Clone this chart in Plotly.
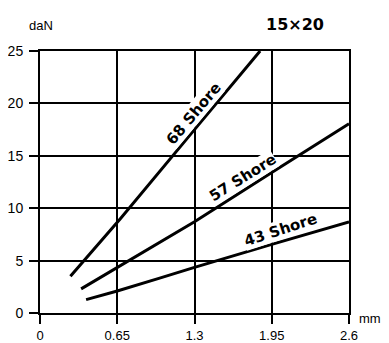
import plotly.graph_objects as go

# Data (deflection mm vs force daN), 15x20 profile
x68 = [0.256, 0.676, 1.3, 1.852]
y68 = [3.5, 9.0, 17.5, 25.0]
x57 = [0.346, 0.65, 1.3, 1.95, 2.6]
y57 = [2.3, 4.35, 8.7, 13.4, 18.05]
x43 = [0.388, 0.65, 1.0, 1.3, 1.95, 2.6]
y43 = [1.28, 2.1, 3.3, 4.35, 6.55, 8.7]

x_ticks = [0, 0.65, 1.3, 1.95, 2.6]
x_tick_text = ["0", "0.65", "1.3", "1.95", "2.6"]
y_ticks = [0, 5, 10, 15, 20, 25]

labels = ["68 Shore", "57 Shore", "43 Shore"]
label_x = [1.29, 1.70, 2.02]
label_y = [19.0, 12.9, 7.9]
label_angle = [-50, -32, -18]

fig = go.Figure()
for xs, ys in [(x68, y68), (x57, y57), (x43, y43)]:
    fig.add_trace(go.Scatter(x=xs, y=ys, mode="lines",
                             line=dict(color="black", width=3),
                             showlegend=False, hoverinfo="skip"))

for t, lx, ly, a in zip(labels, label_x, label_y, label_angle):
    fig.add_annotation(x=lx, y=ly, xref="x", yref="y", text=t, showarrow=False,
                       textangle=a, bgcolor="white", borderpad=0,
                       font=dict(family="DejaVu Sans", size=15, color="black", weight="bold"))

fig.add_annotation(x=(326 - 40) / 309, y=(313 - 24) / 262, xref="paper", yref="paper",
                   text="15×20", showarrow=False,
                   font=dict(family="DejaVu Sans", size=16, color="black", weight="bold"),
                   xanchor="right", yanchor="middle")
fig.add_annotation(x=(27 - 40) / 309, y=(313 - 26) / 262, xref="paper", yref="paper",
                   text="daN", showarrow=False, xanchor="left", yanchor="middle",
                   font=dict(family="Liberation Sans", size=13, color="black"))
fig.add_annotation(x=(357 - 40) / 309, y=(313 - 318) / 262, xref="paper", yref="paper",
                   text="mm", showarrow=False, xanchor="left", yanchor="middle",
                   font=dict(family="Liberation Sans", size=13, color="black"))

axis_common = dict(showgrid=True, gridcolor="black", gridwidth=1.5,
                   showline=True, linecolor="black", linewidth=2, mirror=True,
                   ticks="outside", ticklen=9, tickwidth=1.5, tickcolor="black",
                   zeroline=False, automargin=False)

fig.update_xaxes(range=[0, 2.6], tickvals=x_ticks, ticktext=x_tick_text,
                 ticklabelstandoff=0,
                 tickfont=dict(family="Liberation Sans", size=13, color="black"),
                 **axis_common)
fig.update_yaxes(range=[0, 25], tickvals=y_ticks, ticklabelstandoff=3,
                 tickfont=dict(family="Liberation Sans", size=14, color="black"),
                 **axis_common)

# page body has an 8px default margin: shrink figure and margins to keep plot area in place
fig.update_layout(width=381, height=335, margin=dict(l=32, r=40, t=43, b=30),
                  plot_bgcolor="white", paper_bgcolor="white")

fig.write_html("out.html")
